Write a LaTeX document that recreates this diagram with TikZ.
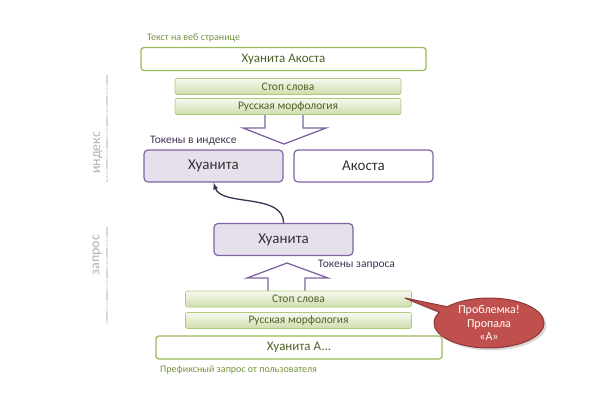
\documentclass[tikz,border=0pt]{standalone}
\usepackage{fontspec}
\setmainfont{Carlito}
\usetikzlibrary{shapes.callouts, calc, shadows}
\tikzset{>=latex}
\definecolor{grn}{HTML}{9BBB59}
\definecolor{grntxt}{HTML}{4F6228}
\definecolor{grnlbl}{HTML}{76923C}
\definecolor{prp}{HTML}{8064A2}
\definecolor{prpfill}{HTML}{E5E0EC}
\definecolor{prptxt}{HTML}{403152}
\definecolor{callred}{HTML}{C0504D}
\definecolor{callrim}{HTML}{8C3836}
\newcommand{\fs}[1]{\fontsize{#1}{#1}\selectfont}
\tikzset{
    textbox/.style={draw=grn, line width=1.3pt, rounded corners=3pt, fill=white, text=grntxt, font=\fs{13}, minimum height=23pt},
    filterbox/.style={draw=grn!80, line width=.6pt, rounded corners=2pt, top color=grn!8, bottom color=grn!50, text=grntxt, font=\fs{11.5}, minimum width=226pt, minimum height=16pt, inner sep=0pt},
    tokbox/.style={draw=prp, line width=1.2pt, rounded corners=4pt, minimum width=139pt, minimum height=32pt, text=black!80, font=\fs{15}},
    blockarr/.style={draw=prp, line width=1.3pt, fill=white, line join=miter},
    lbl/.style={anchor=west, inner sep=0pt, font=\fs{11.5}},
    sidebar/.style={draw=black!15, line width=2pt, dash pattern=on 1.5pt off .6pt},
    sidelbl/.style={rotate=90, text=black!30, font=\fs{14}, inner sep=0pt}
}

\begin{document}
\begin{tikzpicture}[x=1pt, y=-1pt]
    \useasboundingbox (0, 0) rectangle (599, 400);
    % index side
    \draw[sidebar] (107, 75) -- (107, 182);
    \node[sidelbl] (ilbl) at (98, 153) {индекс};
    \draw[sidebar] (107, 227) -- (107, 323);
    \node[sidelbl] (qlbl) at (97, 255) {запрос};

    \node[lbl, text=grnlbl, font=\fs{10}] (webl) at (147, 38) {Текст на веб странице};
    \node[textbox, minimum width=285pt] (web) at (283.5, 59) {Хуанита Акоста};
    \draw[blockarr] (265, 113) -- (265, 128) -- (243, 128) -- (284, 144) -- (326, 128) -- (303, 128) -- (303, 113);
    \node[filterbox] (stop1) at (288, 86.5) {Стоп слова};
    \node[filterbox] (morph1) at (288, 106.5) {Русская морфология};

    \node[lbl, text=prptxt] (idxl) at (150, 141) {Токены в индексе};
    \node[tokbox, fill=prpfill] (idx1) at (213.5, 166) {Хуанита};
    \node[tokbox, fill=white] (idx2) at (363.5, 166) {Акоста};

    % query side
    \node[tokbox, fill=prpfill] (q) at (283.5, 239.5) {Хуанита};
    \draw[->, line width=1.3pt, prptxt] (q.north) .. controls +(0, -30) and +(8, 24) .. (idx1.south);
    \node[lbl, text=prptxt] (ql) at (318, 265) {Токены запроса};
    \draw[blockarr] (268, 293) -- (268, 278) -- (247, 278) -- (287, 263) -- (328, 278) -- (305, 278) -- (305, 293);
    \node[filterbox] (stop2) at (298.5, 299) {Стоп слова};
    \node[filterbox] (morph2) at (298.5, 320.5) {Русская морфология};
    \node[textbox, minimum width=286pt] (pref) at (299, 347.5) {Хуанита А...};
    \node[lbl, text=grnlbl, font=\fs{10}] (prefl) at (160, 370) {Префиксный запрос от пользователя};

    \coordinate (ptr) at ($(stop2.east)+(-7, -1)$);
    \node[ellipse callout, callout absolute pointer=(ptr), fill=callred, draw=callrim, line width=1pt,
          minimum width=110pt, minimum height=50pt, inner sep=0pt, align=center, text=white,
          font=\fontsize{12}{13.5}\selectfont, drop shadow={opacity=.3}] (prob) at (489, 323) {Проблемка!\\Пропала\\«А»};
\end{tikzpicture}
\end{document}
